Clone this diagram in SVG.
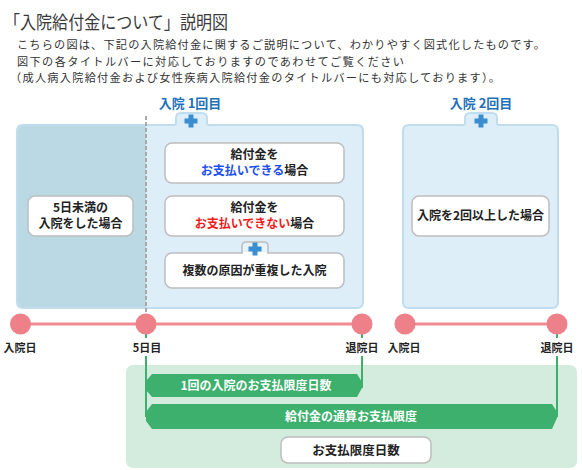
<svg xmlns="http://www.w3.org/2000/svg" width="582" height="470" viewBox="0 0 582 470">
<style>
text{font-family:"Noto Sans CJK JP","Noto Sans",sans-serif}
.hd{font-size:18px;fill:#3a3a3a}
.body{font-size:11.2px;fill:#333}
.ttl{font-size:13px;font-weight:bold;fill:#1e70b8;text-anchor:middle}
.node{fill:#fff;stroke:#bdbdbd;stroke-width:1.5}
.nt{font-size:12px;font-weight:bold;fill:#222;text-anchor:middle}
.blue{fill:#1d4ff0}
.red{fill:#f01c1c}
.plus{fill:#3a8dd0}
.tl{font-size:11px;font-weight:bold;fill:#222;text-anchor:middle}
.gl{stroke:#3cb06c;stroke-width:2;fill:none}
.bar{fill:#3cb06c}
.bt{font-size:12px;font-weight:bold;fill:#fff;text-anchor:middle}
.pk{fill:#ee8089}
</style>
<defs>
<g id="plusg"><rect x="-6.5" y="-2.5" width="13" height="5" class="plus"/><rect x="-2.5" y="-6.5" width="5" height="13" class="plus"/></g>
</defs>

<g id="header">
<text class="hd" x="4" y="29" textLength="224" lengthAdjust="spacingAndGlyphs">「入院給付金について」説明図</text>
<text class="body" x="17" y="49" textLength="528" lengthAdjust="spacing">こちらの図は、下記の入院給付金に関するご説明について、わかりやすく図式化したものです。</text>
<text class="body" x="17" y="65.5" textLength="387" lengthAdjust="spacing">図下の各タイトルバーに対応しておりますのであわせてご覧ください</text>
<text class="body" x="10" y="82" textLength="490" lengthAdjust="spacing">（成人病入院給付金および女性疾病入院給付金のタイトルバーにも対応しております）。</text>
</g>

<g id="panel1">
<text class="ttl" x="190" y="108">入院 1回目</text>
<path d="M23 125H174Q176 125 176 123V118Q176 113 181 113H202Q207 113 207 118V123Q207 125 209 125H357Q363 125 363 131V302Q363 308 357 308H23Q17 308 17 302V131Q17 125 23 125Z" fill="#ddeef9"/>
<path d="M146 126H23Q18 126 18 131V302Q18 307 23 307H146Z" fill="#bad9e4"/>
<path d="M23 125H174Q176 125 176 123V118Q176 113 181 113H202Q207 113 207 118V123Q207 125 209 125H357Q363 125 363 131V302Q363 308 357 308H23Q17 308 17 302V131Q17 125 23 125Z" fill="none" stroke="#c0ddef" stroke-width="2"/>
<use href="#plusg" x="191" y="121"/>
<line x1="146" y1="116" x2="146" y2="322" stroke="#a9a9a9" stroke-width="2" stroke-dasharray="4 2"/>
</g>

<g id="node-under5">
<rect class="node" x="28" y="196" width="105" height="40" rx="7"/>
<text class="nt" x="80.5" y="212">5日未満の</text>
<text class="nt" x="80.5" y="228">入院をした場合</text>
</g>

<g id="node-pay">
<rect class="node" x="165" y="143" width="179" height="40" rx="7"/>
<text class="nt" x="254.5" y="159">給付金を</text>
<text class="nt" x="254.5" y="175"><tspan class="blue">お支払いできる</tspan>場合</text>
</g>

<g id="node-nopay">
<rect class="node" x="165" y="196" width="179" height="40" rx="7"/>
<text class="nt" x="254.5" y="212">給付金を</text>
<text class="nt" x="254.5" y="228"><tspan class="red">お支払いできない</tspan>場合</text>
</g>

<g id="node-multi">
<path d="M242 254V246Q242 242 246 242H264Q268 242 268 246V254" fill="#e6f3fb" stroke="#bdbdbd" stroke-width="1.5"/>
<rect class="node" x="165" y="253" width="179" height="35" rx="7"/>
<rect x="243" y="252" width="24" height="3" fill="#fff"/>
<use href="#plusg" x="255" y="249"/>
<text class="nt" x="254.5" y="275">複数の原因が重複した入院</text>
</g>

<g id="panel2">
<text class="ttl" x="481" y="108">入院 2回目</text>
<path d="M409 125H463Q465 125 465 123V118Q465 113 470 113H492Q497 113 497 118V123Q497 125 499 125H552Q558 125 558 131V302Q558 308 552 308H409Q403 308 403 302V131Q403 125 409 125Z" fill="#ddeef9" stroke="#c0ddef" stroke-width="2"/>
<use href="#plusg" x="481" y="121"/>
</g>

<g id="node-twice">
<rect class="node" x="412" y="196" width="137" height="40" rx="7"/>
<text class="nt" x="480.5" y="220">入院を2回以上した場合</text>
</g>

<g id="limits-panel">
<rect x="126" y="365" width="451" height="103" rx="7" fill="#d4ecdd"/>
</g>

<g id="connectors">
<line x1="20" y1="324" x2="362" y2="324" stroke="#f08b93" stroke-width="3"/>
<line x1="405" y1="324" x2="557" y2="324" stroke="#f08b93" stroke-width="3"/>
<path class="gl" d="M146 334V338M146 356V417M362 334V338M362 356V388M557 334V338M557 356V417"/>
</g>

<g id="timeline">
<circle class="pk" cx="20.5" cy="324" r="10.5"/>
<circle class="pk" cx="146" cy="324" r="10.5"/>
<circle class="pk" cx="362" cy="324" r="10.5"/>
<circle class="pk" cx="405" cy="324" r="10.5"/>
<circle class="pk" cx="557" cy="324" r="10.5"/>
<text class="tl" x="20" y="352">入院日</text>
<text class="tl" x="147" y="352">5日目</text>
<text class="tl" x="362" y="352">退院日</text>
<text class="tl" x="404" y="352">入院日</text>
<text class="tl" x="557" y="352">退院日</text>
</g>

<g id="bar-days">
<polygon class="bar" points="152,374 357,374 362,382 362,388 357,397 152,397 146,390 146,381"/>
<text class="bt" x="256" y="390">1回の入院のお支払限度日数</text>
</g>

<g id="bar-total">
<polygon class="bar" points="152,404 552,404 557,412 557,418 552,429 152,429 146,421 146,412"/>
<text class="bt" x="351" y="421">給付金の通算お支払限度</text>
</g>

<g id="node-limit">
<rect class="node" x="281" y="437" width="150" height="26" rx="7"/>
<text class="nt" x="356" y="455" style="font-size:12.5px">お支払限度日数</text>
</g>
</svg>
